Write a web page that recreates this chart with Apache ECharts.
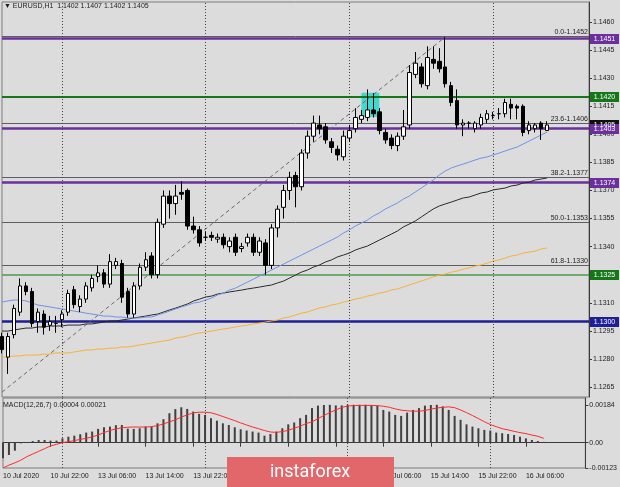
<!DOCTYPE html>
<html><head><meta charset="utf-8">
<script src="https://cdn.jsdelivr.net/npm/echarts@6/dist/echarts.min.js"></script>
<style>html,body{margin:0;padding:0;background:#dcdcdc}#c{width:620px;height:487px}</style>
</head><body><div id="c"></div>
<script>
// ---------- data ----------
const symbolTitle = '\u25BC EURUSD,H1  1.1402 1.1407 1.1402 1.1405';
const macdTitle = 'MACD(12,26,7) 0.00004 0.00021';

const opens  = [1.1292,1.1281,1.1293,1.1305,1.1319,1.1316,1.1300,1.1304,1.1298,1.1299,1.1301,1.1305,1.1317,1.1308,1.1312,1.1318,1.1324,1.1326,1.1320,1.1330,1.1331,1.1316,1.1304,1.1319,1.1329,1.1335,1.1325,1.1352,1.1367,1.1363,1.1369,1.1370,1.1351,1.1349,1.1345,1.1346,1.1344,1.1345,1.1340,1.1345,1.1339,1.1342,1.1345,1.1337,1.1342,1.1330,1.1350,1.1361,1.1370,1.1378,1.1372,1.1390,1.1399,1.1405,1.1404,1.1396,1.1392,1.1388,1.1398,1.1403,1.1408,1.1409,1.1413,1.1412,1.1401,1.1398,1.1394,1.1399,1.1405,1.1432,1.1436,1.1426,1.1440,1.1439,1.1436,1.1426,1.1418,1.1405,1.1406,1.1403,1.1405,1.1408,1.1410,1.1411,1.1411,1.1416,1.1415,1.1415,1.1402,1.1403,1.1406,1.1402];
const closes = [1.1285,1.1292,1.1307,1.1319,1.1316,1.1299,1.1305,1.1297,1.1300,1.1299,1.1304,1.1315,1.1309,1.1312,1.1319,1.1323,1.1326,1.1320,1.1332,1.1332,1.1313,1.1304,1.1319,1.1329,1.1333,1.1325,1.1353,1.1367,1.1363,1.1367,1.1368,1.1351,1.1349,1.1342,1.1345,1.1345,1.1345,1.1341,1.1343,1.1337,1.1340,1.1345,1.1337,1.1343,1.1330,1.1350,1.1360,1.1370,1.1377,1.1372,1.1390,1.1399,1.1406,1.1403,1.1397,1.1393,1.1389,1.1399,1.1402,1.1409,1.1410,1.1413,1.1411,1.1402,1.1397,1.1394,1.1399,1.1404,1.1433,1.1438,1.1427,1.1441,1.1438,1.1435,1.1427,1.1417,1.1405,1.1406,1.1406,1.1406,1.1409,1.1411,1.1410,1.1411,1.1417,1.1414,1.1414,1.1401,1.1405,1.1405,1.1403,1.1405];
const lows   = [1.1283,1.1272,1.1291,1.1303,1.1314,1.1297,1.1294,1.1293,1.1295,1.1294,1.1297,1.1303,1.1307,1.1305,1.1310,1.1316,1.1321,1.1318,1.1318,1.1328,1.1310,1.1302,1.1302,1.1317,1.1327,1.1323,1.1323,1.1350,1.1355,1.1357,1.1365,1.1349,1.1347,1.1340,1.1343,1.1343,1.1342,1.1339,1.1337,1.1335,1.1337,1.1340,1.1335,1.1335,1.1325,1.1328,1.1345,1.1355,1.1365,1.1361,1.1370,1.1387,1.1396,1.1400,1.1395,1.1390,1.1386,1.1386,1.1396,1.1401,1.1406,1.1407,1.1409,1.1400,1.1395,1.1392,1.1391,1.1397,1.1403,1.1430,1.1425,1.1424,1.1435,1.1433,1.1425,1.1415,1.1403,1.1399,1.1403,1.1401,1.1403,1.1406,1.1408,1.1408,1.1409,1.1408,1.1408,1.1399,1.1400,1.1401,1.1397,1.1402];
const highs  = [1.1294,1.1294,1.1309,1.1323,1.1321,1.1318,1.1307,1.1306,1.1303,1.1303,1.1306,1.1317,1.1319,1.1314,1.1321,1.1325,1.1330,1.1328,1.1336,1.1334,1.1333,1.1318,1.1321,1.1331,1.1337,1.1337,1.1355,1.1370,1.1370,1.1373,1.1375,1.1371,1.1356,1.1351,1.1348,1.1348,1.1347,1.1347,1.1345,1.1347,1.1342,1.1347,1.1347,1.1345,1.1344,1.1352,1.1362,1.1373,1.1380,1.1380,1.1392,1.1402,1.1410,1.1410,1.1406,1.1398,1.1394,1.1402,1.1405,1.1414,1.1413,1.1424,1.1422,1.1414,1.1403,1.1400,1.1401,1.1413,1.1437,1.1444,1.1438,1.1447,1.1447,1.1446,1.1452,1.1428,1.1424,1.1408,1.1407,1.1407,1.1411,1.1413,1.1412,1.1414,1.1419,1.1419,1.1416,1.1416,1.1407,1.1406,1.1407,1.1407];

const maBlue = [1.13104,1.13110,1.13115,1.13115,1.13110,1.13099,1.13088,1.13083,1.13078,1.13072,1.13067,1.13062,1.13056,1.13051,1.13045,1.13040,1.13035,1.13029,1.13029,1.13024,1.13024,1.13019,1.13019,1.13019,1.13024,1.13024,1.13035,1.13045,1.13056,1.13067,1.13078,1.13088,1.13099,1.13104,1.13115,1.13126,1.13142,1.13152,1.13168,1.13179,1.13195,1.13211,1.13227,1.13243,1.13259,1.13275,1.13291,1.13307,1.13323,1.13339,1.13355,1.13371,1.13387,1.13403,1.13419,1.13435,1.13451,1.13473,1.13489,1.13510,1.13526,1.13542,1.13564,1.13580,1.13601,1.13617,1.13633,1.13654,1.13670,1.13692,1.13713,1.13735,1.13756,1.13783,1.13804,1.13820,1.13831,1.13841,1.13852,1.13863,1.13873,1.13879,1.13890,1.13900,1.13911,1.13922,1.13932,1.13948,1.13964,1.13980,1.13996,1.14012];
const maBlack = [1.12949,1.12949,1.12955,1.12960,1.12965,1.12965,1.12971,1.12971,1.12976,1.12976,1.12976,1.12981,1.12981,1.12981,1.12987,1.12987,1.12992,1.12997,1.13003,1.13003,1.13008,1.13013,1.13019,1.13024,1.13029,1.13035,1.13040,1.13051,1.13062,1.13072,1.13083,1.13094,1.13110,1.13120,1.13131,1.13136,1.13147,1.13152,1.13158,1.13163,1.13168,1.13174,1.13179,1.13184,1.13190,1.13195,1.13206,1.13216,1.13232,1.13248,1.13264,1.13275,1.13291,1.13302,1.13318,1.13329,1.13345,1.13355,1.13366,1.13382,1.13393,1.13403,1.13419,1.13435,1.13451,1.13467,1.13483,1.13505,1.13521,1.13537,1.13558,1.13580,1.13601,1.13617,1.13628,1.13638,1.13649,1.13660,1.13665,1.13676,1.13687,1.13692,1.13703,1.13708,1.13713,1.13724,1.13729,1.13740,1.13745,1.13756,1.13761,1.13767];
const maOrange = [1.12810,1.12810,1.12816,1.12816,1.12821,1.12821,1.12821,1.12826,1.12826,1.12832,1.12832,1.12832,1.12837,1.12842,1.12848,1.12848,1.12853,1.12853,1.12858,1.12858,1.12864,1.12864,1.12869,1.12875,1.12880,1.12885,1.12891,1.12896,1.12901,1.12912,1.12917,1.12923,1.12933,1.12939,1.12944,1.12949,1.12955,1.12960,1.12965,1.12971,1.12976,1.12981,1.12987,1.12992,1.12997,1.13003,1.13008,1.13019,1.13024,1.13035,1.13045,1.13051,1.13062,1.13072,1.13078,1.13088,1.13094,1.13104,1.13110,1.13120,1.13126,1.13136,1.13142,1.13152,1.13158,1.13168,1.13174,1.13184,1.13195,1.13206,1.13216,1.13227,1.13238,1.13248,1.13254,1.13264,1.13270,1.13280,1.13286,1.13296,1.13302,1.13312,1.13323,1.13329,1.13339,1.13350,1.13355,1.13366,1.13371,1.13376,1.13387,1.13393];

const macdMain = [-0.00076,-0.00060,-0.00039,-0.00003,0.00003,0.00008,0.00013,0.00013,0.00010,0.00010,0.00021,0.00029,0.00034,0.00041,0.00049,0.00054,0.00067,0.00075,0.00078,0.00085,0.00086,0.00068,0.00067,0.00070,0.00078,0.00078,0.00094,0.00114,0.00143,0.00163,0.00172,0.00164,0.00151,0.00140,0.00135,0.00119,0.00107,0.00094,0.00086,0.00075,0.00065,0.00059,0.00054,0.00049,0.00034,0.00042,0.00054,0.00070,0.00089,0.00098,0.00119,0.00135,0.00168,0.00180,0.00183,0.00184,0.00181,0.00181,0.00184,0.00184,0.00184,0.00184,0.00183,0.00180,0.00159,0.00151,0.00135,0.00130,0.00146,0.00159,0.00168,0.00180,0.00183,0.00184,0.00176,0.00159,0.00130,0.00111,0.00089,0.00078,0.00070,0.00062,0.00059,0.00049,0.00046,0.00042,0.00037,0.00029,0.00021,0.00013,0.00008,0.00004];
const macdSignal = [-0.00123,-0.00109,-0.00098,-0.00085,-0.00068,-0.00055,-0.00042,-0.00029,-0.00016,-0.00008,0.00000,0.00005,0.00010,0.00016,0.00021,0.00028,0.00037,0.00049,0.00059,0.00067,0.00072,0.00075,0.00076,0.00076,0.00076,0.00078,0.00083,0.00091,0.00101,0.00111,0.00124,0.00135,0.00145,0.00148,0.00148,0.00145,0.00137,0.00127,0.00117,0.00107,0.00096,0.00086,0.00076,0.00068,0.00059,0.00052,0.00050,0.00054,0.00060,0.00070,0.00080,0.00093,0.00101,0.00117,0.00132,0.00146,0.00159,0.00171,0.00178,0.00180,0.00181,0.00181,0.00181,0.00180,0.00177,0.00172,0.00164,0.00158,0.00155,0.00153,0.00153,0.00156,0.00163,0.00168,0.00172,0.00174,0.00170,0.00159,0.00146,0.00132,0.00117,0.00102,0.00088,0.00078,0.00068,0.00062,0.00055,0.00049,0.00044,0.00037,0.00031,0.00021];

const priceTicks = [1.1265,1.1280,1.1295,1.1310,1.1325,1.1340,1.1355,1.1370,1.1385,1.1400,1.1415,1.1430,1.1445,1.1460];
const macdTicks = [0.00184, 0, -0.00123];
const macdTickLabels = ['0.00184', '0.00', '-0.00123'];
const timeLabels = ['10 Jul 2020','10 Jul 22:00','13 Jul 06:00','13 Jul 14:00','13 Jul 22:00','14 Jul 06:00','14 Jul 14:00','14 Jul 22:00','15 Jul 06:00','15 Jul 14:00','15 Jul 22:00','16 Jul 06:00'];
const timeLabelIdx = [0,8,16,24,32,40,48,56,64,72,80,88];
const daySeparators = [10,34,58,82];

const levelPrices = [1.1451, 1.1420, 1.1403, 1.1374, 1.1325, 1.1300];
const fibPercents = ['0.0','23.6','38.2','50.0','61.8'];
const fibPrices = [1.1452, 1.1406, 1.1377, 1.1353, 1.1330];
const trendIdx = [0, 74];
const trendPrice = [1.12623, 1.1452];
const boxIdx = [60, 63];
const boxPrice = [1.14222, 1.14093];
const lastClose = 1.1405;
const extraBars = 7;

// ---------- styles ----------
const levelColors = ['#6c2f9e','#17761a','#6c2f9e','#6c2f9e','#4f9a4f','#1e1e96'];
const levelBoxColors = ['#6c2f9e','#17761a','#6c2f9e','#6c2f9e','#17761a','#1e1e96'];
const levelWidths = [2.5, 2, 2.5, 2.5, 1.5, 2.5];
const FONT = 'Liberation Sans, Arial, sans-serif';
const TXT = '#1c1c1c';

const nCats = opens.length + extraBars;
const cats = Array.from({length: nCats}, (_, i) => String(i));
const candleData = opens.map((o, i) => [o, closes[i], lows[i], highs[i]]);

const sepLine = () => ({
  silent: true, symbol: 'none', animation: false,
  label: {show: false},
  lineStyle: {color: '#454545', type: [1, 2], width: 1},
  data: daySeparators.map(v => ({xAxis: v}))
});

const baseGraphics = [
  {type: 'text', left: 4, top: 3, z: 20, style: {text: symbolTitle, font: '7px ' + FONT, fill: TXT}},
  {type: 'text', left: 3, top: 402, z: 20, style: {text: macdTitle, font: '7px ' + FONT, fill: TXT}},
  {type: 'rect', z: 30, shape: {x: 227, y: 457, width: 167, height: 30}, style: {fill: '#e2676b'}},
  {type: 'text', z: 31, x: 310, y: 472, style: {text: 'instaforex', font: '18px Roboto, sans-serif', fill: '#ffffff', align: 'center', verticalAlign: 'middle'}}
];

const chart = echarts.init(document.getElementById('c'));
chart.setOption({
  animation: false,
  backgroundColor: '#dcdcdc',
  textStyle: {fontFamily: FONT},
  grid: [
    {left: 2, right: 31, top: 2, height: 395, show: true, backgroundColor: '#dcdcdc', borderColor: '#7c7c7c', borderWidth: 1},
    {left: 2, right: 31, top: 398, height: 70, show: true, backgroundColor: '#dcdcdc', borderColor: '#7c7c7c', borderWidth: 1}
  ],
  xAxis: [
    {type: 'category', gridIndex: 0, data: cats, boundaryGap: false,
     axisLine: {show: false}, axisTick: {show: false}, axisLabel: {show: false}, splitLine: {show: false}},
    {type: 'category', gridIndex: 1, data: cats, boundaryGap: false,
     axisLine: {show: true, lineStyle: {color: '#3a3a3a', width: 1}},
     axisTick: {show: true, length: 4, lineStyle: {color: '#3a3a3a'}, interval: (i) => timeLabelIdx.indexOf(i) >= 0},
     axisLabel: {show: true, interval: (i) => timeLabelIdx.indexOf(i) >= 0, align: 'left', margin: 5,
       fontSize: 7, color: TXT, fontFamily: FONT,
       formatter: (v) => { const k = timeLabelIdx.indexOf(+v); return k >= 0 ? timeLabels[k] : ''; }},
     splitLine: {show: false}}
  ],
  yAxis: [
    {type: 'value', gridIndex: 0, position: 'right', min: 1.125968, max: 1.147068, scale: true,
     axisLine: {show: true, lineStyle: {color: '#3a3a3a'}},
     axisTick: {show: true, length: 3, customValues: priceTicks, lineStyle: {color: '#3a3a3a'}},
     axisLabel: {show: true, customValues: priceTicks, formatter: (v) => v.toFixed(4), fontSize: 7, color: TXT, margin: 4, fontFamily: FONT},
     splitLine: {show: false}},
    {type: 'value', gridIndex: 1, position: 'right', min: -0.00123, max: 0.00217,
     axisLine: {show: true, lineStyle: {color: '#3a3a3a'}},
     axisTick: {show: true, length: 3, customValues: macdTicks, lineStyle: {color: '#3a3a3a'}},
     axisLabel: {show: true, customValues: macdTicks, fontSize: 7, color: TXT, margin: 4, fontFamily: FONT,
       formatter: (v) => { let k = -1; macdTicks.forEach((t, j) => { if (Math.abs(t - v) < 1e-7) k = j; }); return k >= 0 ? macdTickLabels[k] : ''; }},
     splitLine: {show: false}}
  ],
  series: [
    {type: 'line', xAxisIndex: 0, yAxisIndex: 0, data: [], z: 1, silent: true,
     markArea: {silent: true, itemStyle: {color: '#3fd9cf'},
       data: [[{xAxis: boxIdx[0], yAxis: boxPrice[0]}, {xAxis: boxIdx[1], yAxis: boxPrice[1]}]]},
     markLine: sepLine()},
    {type: 'line', xAxisIndex: 0, yAxisIndex: 0, z: 3, silent: true, showSymbol: false, symbol: 'none',
     data: trendIdx.map((i, k) => [i, trendPrice[k]]),
     lineStyle: {color: '#6a6a6a', width: 1, type: [4, 3]}},
    {type: 'line', xAxisIndex: 0, yAxisIndex: 0, z: 4, data: maOrange, showSymbol: false, symbol: 'none', lineStyle: {color: '#f7b23c', width: 1}},
    {type: 'line', xAxisIndex: 0, yAxisIndex: 0, z: 4, data: maBlack, showSymbol: false, symbol: 'none', lineStyle: {color: '#2a2a2a', width: 1}},
    {type: 'line', xAxisIndex: 0, yAxisIndex: 0, z: 4, data: maBlue, showSymbol: false, symbol: 'none', lineStyle: {color: '#6f93e6', width: 1}},
    {type: 'candlestick', xAxisIndex: 0, yAxisIndex: 0, z: 5, data: candleData, barWidth: 4, clip: false,
     itemStyle: {color: '#ffffff', color0: '#000000', borderColor: '#000000', borderColor0: '#000000', borderWidth: 1}},
    {type: 'bar', xAxisIndex: 1, yAxisIndex: 1, z: 3, data: macdMain, barWidth: 2, itemStyle: {color: '#404040'},
     markLine: sepLine()},
    {type: 'line', xAxisIndex: 1, yAxisIndex: 1, z: 4, data: macdSignal, showSymbol: false, symbol: 'none', lineStyle: {color: '#ff2a2a', width: 1}}
  ],
  graphic: baseGraphics
});

// ---------- horizontal levels, placed through the axis scales ----------
const px = (i) => chart.convertToPixel({xAxisIndex: 0}, i);
const py = (p) => chart.convertToPixel({yAxisIndex: 0}, p);
const xL = px(0), xR = px(nCats - 1);
const crisp = (y, w) => (Math.round(w) % 2 === 1) ? Math.round(y - 0.5) + 0.5 : Math.round(y);
const extra = [];
const box = (p, fill) => {
  const y = py(p);
  extra.push({type: 'rect', z: 40, shape: {x: xR + 1, y: Math.round(y) - 5, width: 29, height: 10}, style: {fill: fill}});
  extra.push({type: 'text', z: 41, x: xR + 15.5, y: Math.round(y) + 0.5, style: {text: p.toFixed(4), font: '7px ' + FONT, fill: '#ffffff', align: 'center', verticalAlign: 'middle'}});
};
fibPrices.forEach((p, k) => {
  const y = crisp(py(p), 1);
  extra.push({type: 'line', z: 2, silent: true, shape: {x1: xL, y1: y, x2: xR, y2: y}, style: {stroke: '#5e5e5e', lineWidth: 1}});
  extra.push({type: 'text', z: 21, x: xR - 1, y: y - 1, style: {text: fibPercents[k] + '-' + p.toFixed(4), font: '7px ' + FONT, fill: TXT, align: 'right', verticalAlign: 'bottom'}});
});
levelPrices.forEach((p, k) => {
  const y = crisp(py(p), levelWidths[k]);
  extra.push({type: 'line', z: 2, silent: true, shape: {x1: xL, y1: y, x2: xR, y2: y}, style: {stroke: levelColors[k], lineWidth: levelWidths[k]}});
});
box(lastClose, '#101010');
levelPrices.forEach((p, k) => box(p, levelBoxColors[k]));
chart.setOption({graphic: baseGraphics.concat(extra)});
</script></body></html>
